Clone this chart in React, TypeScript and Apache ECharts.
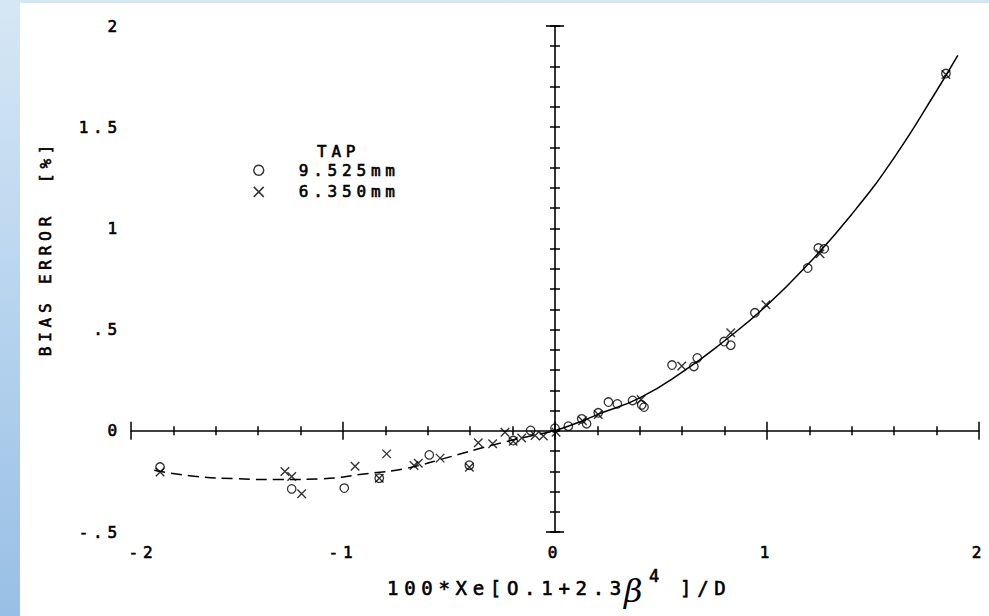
import React, { useEffect, useRef } from "react";
import * as echarts from "echarts";

// Tick values and the labels printed for them (plotter style, no leading zero)
const xTickValues = [-2, -1, 0, 1, 2];
const xTickLabels = ["-2", "-1", "0", "1", "2"];
const yTickValues = [-0.5, 0, 0.5, 1, 1.5, 2];
const yTickLabels = ["-.5", "0", ".5", "1", "1.5", "2"];

// Measured bias error, tap diameter 9.525 mm  [x, bias %]
const tap9525: [number, number][] = [
  [-1.863, -0.179], [-1.242, -0.287], [-0.994, -0.283], [-0.829, -0.234],
  [-0.593, -0.119], [-0.404, -0.17], [-0.197, -0.048], [-0.115, 0.002],
  [0.0, 0.013], [0.063, 0.023], [0.126, 0.059], [0.149, 0.035],
  [0.204, 0.089], [0.252, 0.142], [0.294, 0.133], [0.366, 0.15],
  [0.409, 0.128], [0.42, 0.117], [0.552, 0.325], [0.655, 0.318],
  [0.671, 0.36], [0.798, 0.441], [0.829, 0.423], [0.943, 0.583],
  [1.192, 0.804], [1.242, 0.903], [1.27, 0.899], [1.844, 1.765],
];

// Measured bias error, tap diameter 6.350 mm
const tap6350: [number, number][] = [
  [-1.863, -0.204], [-1.274, -0.201], [-1.242, -0.226], [-1.195, -0.311],
  [-0.943, -0.175], [-0.794, -0.114], [-0.829, -0.234], [-0.665, -0.172],
  [-0.645, -0.16], [-0.542, -0.135], [-0.404, -0.18], [-0.362, -0.059],
  [-0.294, -0.064], [-0.236, -0.007], [-0.197, -0.052], [-0.157, -0.035],
  [-0.094, -0.023], [-0.055, -0.026], [0.005, -0.007], [0.13, 0.05],
  [0.204, 0.08], [0.406, 0.155], [0.598, 0.32], [0.829, 0.484],
  [0.995, 0.623], [1.25, 0.875], [1.844, 1.76],
];

// Fitted curve: solid over the positive range, dashed where extrapolated
const fitSolid: [number, number][] = [
  [0, 0], [0.1, 0.037], [0.2, 0.08], [0.4, 0.163], [0.6, 0.29],
  [0.8, 0.445], [1.0, 0.62], [1.2, 0.83], [1.4, 1.07], [1.6, 1.35],
  [1.8, 1.68], [1.9, 1.855],
];
const fitDashed: [number, number][] = [
  [-1.89, -0.195], [-1.7, -0.225], [-1.5, -0.237], [-1.3, -0.241],
  [-1.1, -0.237], [-0.9, -0.213], [-0.7, -0.185], [-0.5, -0.13],
  [-0.3, -0.072], [-0.1, -0.022], [0, 0],
];

const legendNames = ["9.525mm", "6.350mm"];

const INK = "#000000";
const MONO = "'DejaVu Sans Mono', 'Liberation Mono', monospace";
const FS = 16;
// a thin outline on the glyphs mimics the plotter pen width
const PEN = { textBorderColor: INK, textBorderWidth: 0.6 };

const pick = (vals: number[], labels: string[]) => (v: number) => {
  const i = vals.findIndex((t) => Math.abs(t - v) < 1e-6);
  return i >= 0 ? labels[i] : "";
};

// Axis drawn through the origin; a pair (ticks inside + outside) gives crossing ticks
const lineAxis = (inside: boolean, showLine: boolean) => ({
  type: "value" as const,
  min: -2,
  max: 2,
  interval: 1,
  position: "bottom" as const,
  axisLine: {
    show: showLine,
    onZero: true,
    onZeroAxisIndex: 0,
    lineStyle: { color: INK, width: 1.6 },
  },
  axisTick: { show: true, inside, length: 9, lineStyle: { color: INK, width: 1.5 } },
  minorTick: { show: true, splitNumber: 5, length: 4.5, lineStyle: { color: INK, width: 1.5 } },
  axisLabel: { show: false },
  splitLine: { show: false },
});

const lineYAxis = (inside: boolean, showLine: boolean) => ({
  type: "value" as const,
  min: -0.5,
  max: 2,
  interval: 0.1,
  position: "left" as const,
  axisLine: {
    show: showLine,
    onZero: true,
    onZeroAxisIndex: 0,
    symbol: ["rect", "rect"],
    symbolSize: [18, 1.6],
    lineStyle: { color: INK, width: 1.6 },
  },
  axisTick: { show: true, inside, length: 5, lineStyle: { color: INK, width: 1.5 } },
  axisLabel: { show: false },
  splitLine: { show: false },
});

export default function App() {
  const ref = useRef<HTMLDivElement>(null);

  useEffect(() => {
    if (!ref.current) return;
    const chart = echarts.init(ref.current, undefined, { renderer: "svg" });
    const textBase = { fontFamily: MONO, fontSize: FS, fill: INK, stroke: INK, lineWidth: 0.6 };
    const xLabel = pick(xTickValues, xTickLabels);

    chart.setOption({
      animation: false,
      backgroundColor: "transparent",
      grid: { left: 131, right: 10, top: 26, bottom: 84, containLabel: false },
      title: {
        text: "TAP",
        left: 317,
        top: 143,
        padding: 0,
        textStyle: { fontFamily: MONO, fontSize: FS, fontWeight: "normal", color: INK, ...PEN },
      },
      legend: {
        data: legendNames,
        orient: "vertical",
        left: 253,
        top: 162,
        padding: 0,
        itemWidth: 10,
        itemHeight: 10,
        itemGap: 5,
        selectedMode: false,
        itemStyle: { color: "rgba(0,0,0,0)", borderColor: INK, borderWidth: 1.5 },
        textStyle: { fontFamily: MONO, fontSize: FS, color: INK, padding: [0, 0, 0, 30], ...PEN },
      },
      xAxis: [
        {
          type: "value",
          min: -2,
          max: 2,
          interval: 1,
          position: "bottom",
          axisLine: { show: false, onZero: false },
          axisTick: { show: false },
          splitLine: { show: false },
          axisLabel: {
            margin: 12,
            fontFamily: MONO,
            fontSize: FS,
            color: INK,
            ...PEN,
            // the leftmost label sits just inside the frame
            formatter: (v: number) => (v <= -2 ? `{edge|${xLabel(v)}}` : xLabel(v)),
            rich: {
              edge: { fontFamily: MONO, fontSize: FS, color: INK, ...PEN, padding: [0, 0, 0, 24] },
            },
          },
        },
        lineAxis(true, true),
        lineAxis(false, false),
      ],
      yAxis: [
        {
          type: "value",
          min: -0.5,
          max: 2,
          interval: 0.5,
          position: "left",
          axisLine: { show: false, onZero: false },
          axisTick: { show: false },
          splitLine: { show: false },
          axisLabel: {
            margin: 9,
            fontFamily: MONO,
            fontSize: FS,
            color: INK,
            ...PEN,
            formatter: pick(yTickValues, yTickLabels),
          },
        },
        lineYAxis(true, true),
        lineYAxis(false, false),
      ],
      graphic: [
        {
          type: "text",
          x: 45,
          y: 248,
          rotation: Math.PI / 2,
          style: { ...textBase, text: "BIAS ERROR  [%]", align: "center", verticalAlign: "middle" },
        },
        {
          type: "text",
          x: 387,
          y: 588,
          style: { ...textBase, fontSize: 19, text: "100*Xe[O.1+2.3", align: "left", verticalAlign: "middle" },
        },
        {
          type: "text",
          x: 624,
          y: 591,
          style: {
            fill: INK,
            fontFamily: "'DejaVu Serif', serif",
            fontStyle: "italic",
            fontSize: 32,
            text: "β",
            align: "left",
            verticalAlign: "middle",
          },
        },
        {
          type: "text",
          x: 649,
          y: 576,
          style: { ...textBase, fontSize: 17, text: "4", align: "left", verticalAlign: "middle" },
        },
        {
          type: "text",
          x: 680,
          y: 588,
          style: { ...textBase, fontSize: 19, text: "]/D", align: "left", verticalAlign: "middle" },
        },
      ],
      series: [
        {
          type: "line",
          name: "fit",
          data: fitSolid,
          smooth: true,
          showSymbol: false,
          symbol: "none",
          silent: true,
          lineStyle: { color: INK, width: 1.5 },
          z: 1,
        },
        {
          type: "line",
          name: "fit extrapolated",
          data: fitDashed,
          smooth: true,
          showSymbol: false,
          symbol: "none",
          silent: true,
          lineStyle: { color: INK, width: 1.5, type: [11, 6] },
          z: 1,
        },
        {
          type: "scatter",
          name: legendNames[0],
          data: tap9525,
          symbol: "circle",
          symbolSize: 8.5,
          itemStyle: { color: "rgba(0,0,0,0)", borderColor: INK, borderWidth: 1.3 },
        },
        {
          type: "scatter",
          name: legendNames[1],
          data: tap6350,
          symbol: "path://M0,0L10,10M10,0L0,10",
          symbolSize: 8.5,
          itemStyle: { color: "rgba(0,0,0,0)", borderColor: INK, borderWidth: 1.4 },
        },
      ],
    });

    return () => chart.dispose();
  }, []);

  return (
    <div
      style={{
        position: "fixed",
        left: 0,
        top: 0,
        width: 989,
        height: 616,
        background: "linear-gradient(180deg, #d6e7f4 0%, #b7d4ee 50%, #98bfe5 100%)",
      }}
    >
      <style>{`.bias-plot text { letter-spacing: 0.3em; } .bias-plot text[style*="italic"] { letter-spacing: 0; }`}</style>
      <div
        style={{ position: "absolute", left: 20, top: 3, right: 0, bottom: 0, background: "#ffffff" }}
      />
      <div
        ref={ref}
        className="bias-plot"
        style={{ position: "absolute", left: 0, top: 0, width: 989, height: 616 }}
      />
    </div>
  );
}
